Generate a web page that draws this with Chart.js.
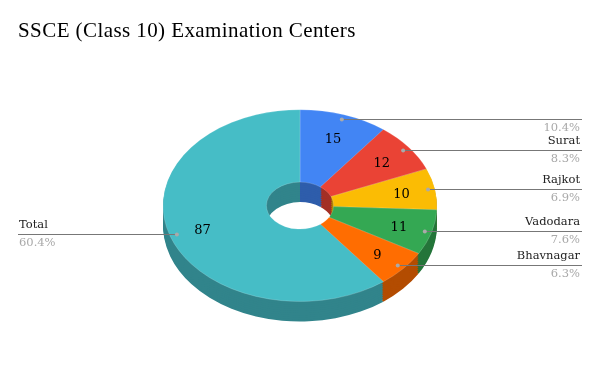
<!DOCTYPE html>
<html>
<head>
<meta charset="utf-8">
<style>
  html, body { margin: 0; padding: 0; background: #fff; }
  #wrap { width: 600px; height: 371px; }
</style>
<script src="https://cdn.jsdelivr.net/npm/chart.js@4/dist/chart.umd.min.js"></script>
</head>
<body>
<div id="wrap"><canvas id="chart" width="600" height="371"></canvas></div>
<script>
const titleText = 'SSCE (Class 10) Examination Centers';
const categories = ['', 'Surat', 'Rajkot', 'Vadodara', 'Bhavnagar', 'Total'];
const centers = [15, 12, 10, 11, 9, 87];
const shares = ['10.4%', '8.3%', '6.9%', '7.6%', '6.3%', '60.4%'];
const colors = ['#4285f4', '#ea4335', '#fbbc04', '#34a853', '#ff6d01', '#46bdc6'];
const darkColors = ['#2e5dab', '#a32f25', '#b08403', '#24753a', '#b34c01', '#31848b'];

const squash = 0.70;   // tilt of the pie
const depth = 20;      // height of the side wall, px on screen
const labelFont = '11.5px "DejaVu Serif"';

// the doughnut is drawn squashed, with darker copies underneath as the wall
const tiltPlugin = {
  id: 'tilt',
  beforeDraw(chart) {
    chart.ctx.letterSpacing = '0.42px';  // only the title is drawn with this
  },
  beforeDatasetsDraw(chart) {
    chart.ctx.letterSpacing = '0px';
  },
  beforeDatasetDraw(chart, args) {
    const ctx = chart.ctx;
    const arcs = args.meta.data;
    ctx.save();
    ctx.translate(arcs[0].x, arcs[0].y);
    ctx.scale(1, squash);
    ctx.translate(-arcs[0].x, -arcs[0].y);
    const step = 3;
    for (let d = depth / squash; d > 0; d -= step) {
      ctx.save();
      ctx.translate(0, d);
      arcs.forEach((arc, i) => {
        const opts = arc.options;
        arc.options = { ...opts, backgroundColor: darkColors[i], borderWidth: 0 };
        arc.draw(ctx);
        arc.options = opts;
      });
      ctx.restore();
    }
  },
  afterDatasetDraw(chart) {
    chart.ctx.restore();
  },
  afterDatasetsDraw(chart) {
    const ctx = chart.ctx;
    const arcs = chart.getDatasetMeta(0).data;
    ctx.save();
    arcs.forEach((arc, i) => {
      const mid = (arc.startAngle + arc.endAngle) / 2;
      const px = arc.x + 130 * Math.cos(mid);
      const py = Math.floor(arc.y + 130 * Math.sin(mid) * squash) + 0.5;
      const right = px > arc.x;

      // leader line and dot
      ctx.strokeStyle = '#777777';
      ctx.lineWidth = 1;
      ctx.beginPath();
      ctx.moveTo(px, py);
      ctx.lineTo(right ? 582 : 18, py);
      ctx.stroke();
      ctx.fillStyle = '#aaaaaa';
      ctx.beginPath();
      ctx.arc(px, py, 2, 0, Math.PI * 2);
      ctx.fill();

      // name above the line, share below
      ctx.font = labelFont;
      ctx.textAlign = right ? 'right' : 'left';
      ctx.textBaseline = 'middle';
      ctx.fillStyle = '#222222';
      ctx.fillText(categories[i], right ? 580 : 19, py - 9);
      ctx.fillStyle = '#a9a9a9';
      ctx.fillText(shares[i], right ? 580 : 19, py + 9);

      // value inside the slice
      ctx.font = '13px "DejaVu Serif"';
      ctx.textAlign = 'center';
      ctx.fillStyle = '#000000';
      ctx.fillText(String(centers[i]), arc.x + 103 * Math.cos(mid), arc.y + 103 * Math.sin(mid) * squash + 2);
    });
    ctx.restore();
  }
};

new Chart(document.getElementById('chart'), {
  type: 'doughnut',
  data: {
    labels: categories,
    datasets: [{
      data: centers,
      backgroundColor: colors,
      borderColor: 'rgba(255,255,255,0.2)',
      borderWidth: 1,
      clip: false
    }]
  },
  options: {
    responsive: false,
    animation: false,
    radius: 137,
    cutout: '24.5%',
    layout: { padding: { left: 18, right: 18, top: 0, bottom: 9 } },
    plugins: {
      legend: { display: false },
      tooltip: { enabled: false },
      title: {
        display: true,
        text: titleText,
        align: 'start',
        color: '#000000',
        font: { family: '"Liberation Serif"', size: 21, weight: 'normal', lineHeight: 1.2 },
        padding: { top: 19, bottom: 5 }
      }
    }
  },
  plugins: [tiltPlugin]
});
</script>
</body>
</html>
